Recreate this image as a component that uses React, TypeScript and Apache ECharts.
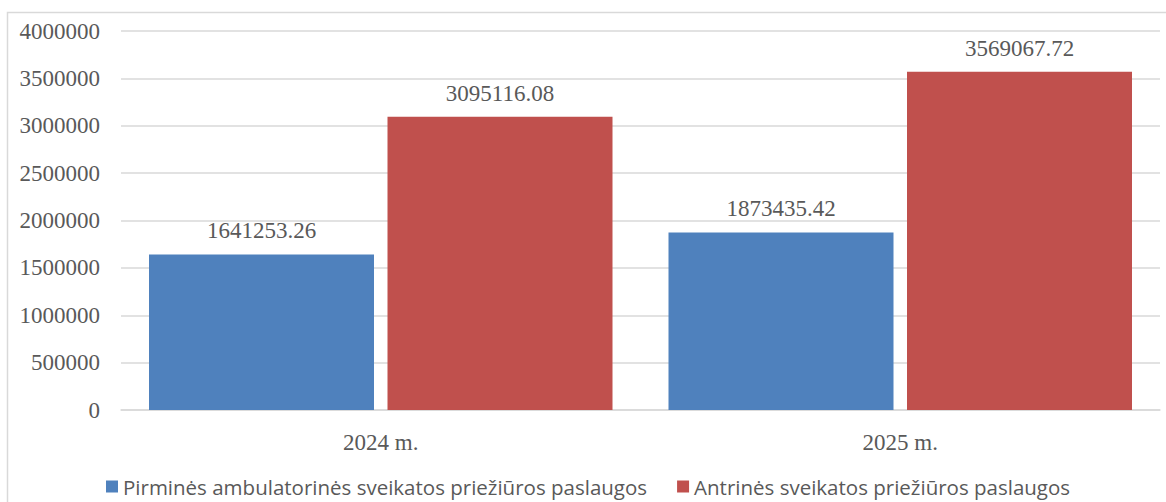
import React, { useEffect, useRef } from "react";
import * as echarts from "echarts";

const categories = ["2024 m.", "2025 m."];
const seriesNames = [
  "Pirminės ambulatorinės sveikatos priežiūros paslaugos",
  "Antrinės sveikatos priežiūros paslaugos",
];
const primaryValues = [1641253.26, 1873435.42];
const secondaryValues = [3095116.08, 3569067.72];
const yMin = 0;
const yMax = 4000000;
const yInterval = 500000;

const TEXT = "#595959";
const GRID = "#d9d9d9";
const SERIF = "'Liberation Serif', 'Times New Roman', serif";

export default function App() {
  const ref = useRef<HTMLDivElement>(null);
  useEffect(() => {
    if (!ref.current) return;
    const chart = echarts.init(ref.current, null, { renderer: "svg" });
    const label = {
      show: true,
      position: "top",
      distance: 12,
      color: TEXT,
      fontFamily: SERIF,
      fontSize: 23,
      formatter: (p: any) => Number(p.value).toFixed(2),
    };
    chart.setOption({
      animation: false,
      backgroundColor: "#ffffff",
      graphic: [
        {
          type: "rect",
          shape: { x: 7.5, y: 12.5, width: 1170, height: 500 },
          style: { fill: "none", stroke: GRID, lineWidth: 1.5 },
          silent: true,
          z: -1,
        },
      ],
      grid: { left: 121, right: 6, top: 31, bottom: 92, containLabel: false },
      legend: {
        top: 471,
        left: 101,
        itemWidth: 12,
        itemHeight: 12,
        itemGap: 30,
        icon: "rect",
        textStyle: { color: TEXT, fontFamily: "'Open Sans', sans-serif", fontSize: 20.5 },
        data: seriesNames,
      },
      xAxis: {
        type: "category",
        data: categories,
        axisLine: { show: true, lineStyle: { color: GRID, width: 1.5 } },
        axisTick: { show: false },
        axisLabel: { color: TEXT, fontFamily: SERIF, fontSize: 23, margin: 21 },
      },
      yAxis: {
        type: "value",
        min: yMin,
        max: yMax,
        interval: yInterval,
        axisLine: { show: false },
        axisTick: { show: false },
        splitLine: { lineStyle: { color: GRID, width: 1.5 } },
        axisLabel: {
          color: TEXT,
          fontFamily: SERIF,
          fontSize: 23,
          margin: 21,
          formatter: (v: number) => String(v),
        },
      },
      series: [
        {
          name: seriesNames[0],
          type: "bar",
          data: primaryValues,
          barWidth: 225,
          barGap: "6%",
          itemStyle: { color: "#4F81BD" },
          label,
        },
        {
          name: seriesNames[1],
          type: "bar",
          data: secondaryValues,
          barWidth: 225,
          barGap: "6%",
          itemStyle: { color: "#C0504D" },
          label,
        },
      ],
    });
    return () => chart.dispose();
  }, []);
  return (
    <div
      ref={ref}
      style={{ position: "fixed", left: 0, top: 0, width: 1166, height: 502 }}
    />
  );
}
